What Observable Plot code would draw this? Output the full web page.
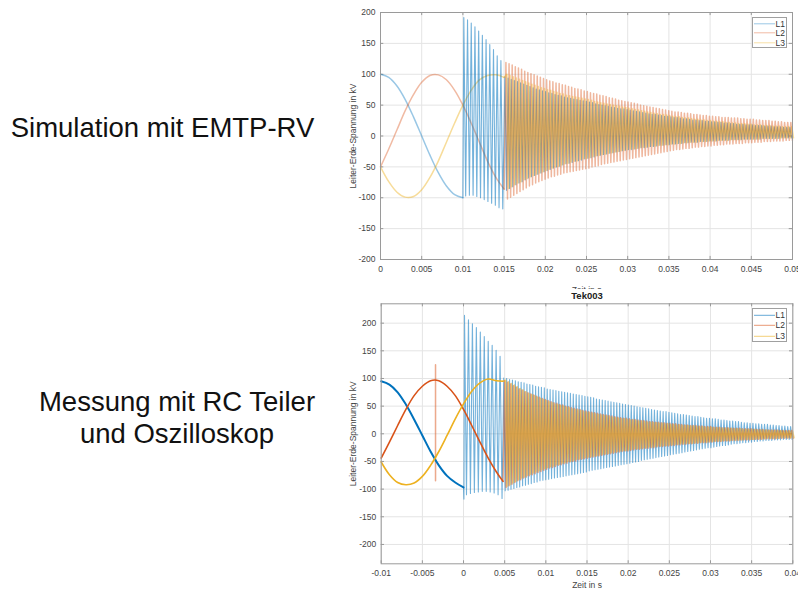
<!DOCTYPE html>
<html><head><meta charset="utf-8">
<script src="https://cdn.jsdelivr.net/npm/d3@7"></script>
<script src="https://cdn.jsdelivr.net/npm/@observablehq/plot@0.6"></script>
<style>
html,body{margin:0;padding:0;background:#fff;}
body{width:798px;height:591px;position:relative;overflow:hidden;font-family:"Liberation Sans",Arial,sans-serif;}
.lbl{position:absolute;font-size:27.5px;line-height:32px;color:#111;white-space:nowrap;text-align:center;}
.chart{position:absolute;left:340px;}
.legend{position:absolute;background:#fff;border:1px solid #a0a0a0;box-sizing:border-box;}
</style></head><body>
<div class="lbl" style="left:0;width:325px;top:112px;">Simulation mit EMTP-RV</div>
<div class="lbl" style="left:0;width:354px;top:386px;">Messung mit RC Teiler<br>und Oszilloskop</div>
<div class="chart" id="top" style="top:0;"></div>
<div class="chart" id="bot" style="top:290px;"></div>
<div class="legend" id="legTop" style="left:752px;top:17px;width:35px;height:31px;"></div>
<div class="legend" id="legBot" style="left:752px;top:308px;width:35px;height:34px;"></div>
<script>
// ---------- shared ----------
const seriesNames = ["L1", "L2", "L3"];
const seriesColors = ["#0072BD", "#D95319", "#EDB120"];
const yLabel = "Leiter-Erde-Spannung in kV";
const xLabel = "Zeit in s";
const bottomTitle = "Tek003";

// ---------- top chart: Simulation mit EMTP-RV ----------
const simXTicks = [0, 0.005, 0.01, 0.015, 0.02, 0.025, 0.03, 0.035, 0.04, 0.045, 0.05];
const simYTicks = [-200, -150, -100, -50, 0, 50, 100, 150, 200];
const simSineTimes = [0, 0.001, 0.002, 0.003, 0.004, 0.005, 0.006, 0.007, 0.008, 0.009, 0.01, 0.011, 0.012, 0.013, 0.014, 0.015];
const simL1Sine = [100, 95, 81, 59, 31, 0, -31, -59, -81, -95, -100];
const simL2Sine = [-50, -21, 10, 41, 67, 87, 98, 99, 91, 74, 50, 21, -10, -41, -67, -86];
const simL3Sine = [-50, -74, -91, -99, -98, -87, -67, -41, -10, 21, 50, 74, 91, 98, 99, 95];
// L1 re-strike spikes 0.01 .. 0.015
const simSpikeStart = 0.01, simSpikePeriod = 0.00045;
const simL1SpikeHi = [192, 188, 183, 177, 170, 163, 156, 148, 140, 130, 122];
const simL1SpikeLo = [-97, -96, -96, -98, -100, -103, -106, -109, -112, -116, -118];
// decaying oscillation 0.015 .. 0.05 (peak per cycle)
const simOscStart = 0.015, simOscPeriod = 0.00038;
const simL1Hi = [96,94,92,90,88,86,84,82,80,78,76,75,73, 72,70,69,67,66,65,63,62,61,60,59,58,57, 56,55,54,52,51,50,49,48,47,46,45,44,44, 43,42,41,40,39,38,37,36,35,35,34,33,32, 32,31,30,30,29,28,28,27,26,26,25,25,24, 24,23,23,22,22,21,21,20,20,19,19,19,18, 18,18,17,17,17,16,16,16,15,15,15,14,14,14];
const simL1Lo = [-88,-85,-82,-79,-76,-74,-71,-68,-66,-64,-62,-60,-58, -56,-54,-52,-50,-49,-47,-45,-44,-43,-41,-40,-39,-37, -36,-35,-34,-32,-31,-30,-29,-28,-27,-26,-25,-24,-23, -22,-22,-21,-20,-19,-19,-18,-17,-17,-16,-15,-15,-14, -14,-13,-13,-12,-12,-11,-11,-10,-10,-10,-9,-9,-9, -8,-8,-8,-7,-7,-7,-7,-6,-6,-6,-6,-5,-5, -5,-5,-5,-5,-4,-4,-4,-4,-4,-4,-3,-3,-3,-3];
const simL2Hi = [119,117,115,112,110,108,105,103,101,99,97,95,93, 91,89,88,86,85,83,82,80,79,77,76,75,73, 72,70,69,68,66,65,64,62,61,60,58,57,56, 55,54,53,52,50,49,48,47,46,45,44,43,42, 41,40,39,39,38,37,37,36,35,35,34,33,33, 32,32,31,31,30,30,30,29,29,29,28,28,27, 27,27,26,26,25,25,25,24,24,23,23,22,22,22];
const simL2Lo = [-102,-99,-96,-93,-90,-87,-84,-81,-79,-76,-74,-72,-70, -68,-66,-65,-63,-62,-60,-59,-58,-57,-56,-55,-54,-53, -52,-50,-49,-48,-46,-45,-44,-43,-42,-41,-40,-39,-38, -37,-36,-35,-34,-33,-32,-31,-30,-29,-28,-27,-26,-25, -24,-23,-22,-22,-21,-20,-20,-19,-18,-18,-17,-17,-16, -16,-15,-15,-14,-14,-13,-13,-13,-12,-12,-12,-11,-11, -11,-10,-10,-10,-9,-9,-9,-8,-8,-8,-8,-7,-7,-7];
const simL3Hi = [100,98,96,94,92,90,88,86,84,82,80,78,77, 75,74,72,71,69,68,66,65,64,63,62,61,60, 59,58,56,55,54,53,52,51,50,49,48,47,46, 45,44,43,42,41,40,39,38,37,36,35,35,34, 33,32,31,31,30,29,29,28,27,27,26,26,25, 25,24,24,23,23,22,22,21,21,20,20,20,19, 19,18,18,18,17,17,17,16,16,16,15,15,15,15];
const simL3Lo = [-85,-82,-79,-76,-74,-71,-69,-66,-64,-62,-60,-58,-56, -54,-52,-50,-49,-47,-45,-44,-42,-41,-40,-38,-37,-36, -35,-33,-32,-31,-30,-29,-28,-27,-26,-25,-24,-23,-22, -21,-21,-20,-19,-18,-18,-17,-16,-16,-15,-15,-14,-14, -13,-13,-12,-12,-11,-11,-10,-10,-10,-9,-9,-9,-8, -8,-8,-7,-7,-7,-7,-6,-6,-6,-6,-5,-5,-5, -5,-5,-5,-4,-4,-4,-4,-4,-4,-3,-3,-3,-3,-3];

// ---------- bottom chart: Messung (Tek003) ----------
const mesXTicks = [-0.01, -0.005, 0, 0.005, 0.01, 0.015, 0.02, 0.025, 0.03, 0.035, 0.04];
const mesYTicks = [-200, -150, -100, -50, 0, 50, 100, 150, 200];
const mesSineTimes = [-0.01, -0.009, -0.008, -0.007, -0.006, -0.005, -0.004, -0.003, -0.002, -0.001, 0, 0.001, 0.002, 0.003, 0.004, 0.0048];
const mesL1Sine = [95, 89, 75, 53, 26, -3, -32, -57, -76, -88, -97];
const mesL2Sine = [-44, -15, 15, 44, 69, 86, 96, 96, 86, 69, 44, 15, -15, -44, -69, -86];
const mesL3Sine = [-51, -74, -88, -92, -89, -77, -57, -32, -3, 27, 54, 77, 92, 99, 96, 95];
const mesL2Glitch = {t: -0.0034, values: [96, 125, -85, 96]};
const mesSpikeStart = 0, mesSpikePeriod = 0.00048;
const mesL1SpikeLoFirst = -118;
const mesL1SpikeHi = [214, 206, 199, 192, 184, 176, 167, 160, 151, 140];
const mesL1SpikeLo = [-110, -108, -106, -105, -104, -104, -105, -107, -110, -117];
const mesOscStart = 0.0048, mesOscPeriod = 0.000352;
const mesL1Hi = [101,100,98,97,96,94,93,92,90,89,88,86,85,84,83, 81,80,79,78,77,76,75,74,73,72,71,70,69,68, 67,66,65,63,62,61,60,59,58,57,56,55,54,53, 52,51,50,49,48,47,46,45,44,43,42,41,40,40, 39,38,37,36,35,35,34,33,32,31,31,30,29,28, 28,27,27,26,25,25,24,23,23,22,22,21,20,20,19, 19,18,18,17,17,17,16,16,15,15,14,14,13,13];
const mesL1Lo = [-103,-102,-100,-99,-97,-96,-94,-93,-91,-90,-88,-87,-85,-84,-83, -82,-81,-80,-79,-78,-77,-76,-75,-74,-73,-72,-71,-70,-69, -67,-66,-65,-64,-63,-62,-61,-60,-59,-58,-57,-56,-55,-54, -53,-52,-51,-50,-48,-47,-46,-45,-44,-43,-42,-41,-40,-39, -38,-37,-36,-35,-34,-33,-32,-31,-30,-29,-28,-27,-26,-25, -25,-24,-23,-22,-21,-21,-20,-19,-18,-18,-17,-16,-16,-15,-15, -14,-14,-13,-13,-12,-12,-12,-11,-11,-11,-10,-10,-10,-10];
const mesL2Hi = [96,93,90,87,84,81,79,76,74,72,70,68,66,64,62, 60,58,56,55,53,52,50,49,47,46,45,44,42,41, 40,39,38,37,36,35,34,33,32,31,30,29,28,28, 27,26,26,25,24,24,23,22,22,21,21,20,20,19, 19,18,18,17,17,16,16,15,15,15,14,14,13,13, 13,12,12,12,11,11,11,10,10,10,10,9,9,9,9, 8,8,8,8,7,7,7,7,7,6,6,6,6,6];
const mesL2Lo = [-97,-94,-91,-88,-85,-83,-80,-78,-76,-74,-72,-70,-68,-66,-64, -62,-61,-59,-57,-56,-54,-53,-51,-50,-49,-47,-46,-45,-44, -43,-42,-41,-40,-39,-38,-37,-36,-35,-34,-33,-32,-31,-31, -30,-29,-28,-28,-27,-26,-26,-25,-25,-24,-23,-23,-22,-22, -21,-21,-20,-20,-19,-19,-18,-18,-17,-17,-16,-16,-16,-15, -15,-14,-14,-14,-13,-13,-13,-12,-12,-12,-11,-11,-11,-11,-10, -10,-10,-10,-9,-9,-9,-9,-9,-8,-8,-8,-8,-8,-8];
const mesL3Hi = [97,94,91,88,85,82,79,76,73,71,69,66,64,62,60, 58,56,54,53,51,50,48,47,45,44,43,42,40,39, 38,37,36,35,34,33,32,31,30,29,28,27,27,26, 25,25,24,23,23,22,21,21,20,20,19,19,18,18, 17,17,16,16,15,15,15,14,14,13,13,13,12,12, 12,11,11,11,10,10,10,10,9,9,9,8,8,8,8, 8,7,7,7,7,6,6,6,6,6,5,5,5,5];
const mesL3Lo = [-95,-92,-89,-86,-83,-80,-78,-75,-73,-71,-69,-67,-65,-63,-61, -59,-58,-56,-55,-53,-52,-50,-49,-48,-46,-45,-44,-43,-42, -41,-40,-39,-38,-37,-36,-35,-34,-33,-32,-31,-30,-30,-29, -28,-27,-27,-26,-25,-25,-24,-24,-23,-22,-22,-21,-21,-20, -20,-19,-19,-18,-18,-17,-17,-17,-16,-16,-15,-15,-15,-14, -14,-13,-13,-13,-12,-12,-12,-11,-11,-11,-11,-10,-10,-10,-10, -9,-9,-9,-9,-8,-8,-8,-8,-8,-7,-7,-7,-7,-7];

// ---------- helpers ----------
const pairs = (times, vals) => vals.map((v, i) => ({t: times[i], v}));
function osc(start, period, phase, hi, lo) {
  const pts = [];
  const n = Math.min(hi.length, lo.length);
  for (let i = 0; i < n; i++) {
    pts.push({t: start + (i + phase + 0.25) * period, v: hi[i]});
    pts.push({t: start + (i + phase + 0.75) * period, v: lo[i]});
  }
  return pts;
}
const fmt = d => String(+(+d).toFixed(3));

function frameMarks(xTicks, yTicks, xDom, yDom, tickLenX, tickLenY, xLabelOffset) {
  return [
    Plot.gridX(xTicks, {stroke: "#e4e4e4", strokeOpacity: 1}),
    Plot.gridY(yTicks, {stroke: "#e4e4e4", strokeOpacity: 1}),
    Plot.ruleX(xTicks, {y1: yDom[0], y2: yDom[0] + tickLenY, stroke: "#999"}),
    Plot.ruleX(xTicks, {y1: yDom[1], y2: yDom[1] - tickLenY, stroke: "#999"}),
    Plot.ruleY(yTicks, {x1: xDom[0], x2: xDom[0] + tickLenX, stroke: "#999"}),
    Plot.ruleY(yTicks, {x1: xDom[1], x2: xDom[1] - tickLenX, stroke: "#999"}),
    Plot.axisX(xTicks, {tickSize: 0, tickPadding: 6, tickFormat: fmt, fontSize: 8.5, fill: "#444",
      label: xLabel, labelAnchor: "center", labelArrow: "none", labelOffset: xLabelOffset}),
    Plot.axisY(yTicks, {tickSize: 0, tickPadding: 5, tickFormat: d => String(d), fontSize: 8.5, fill: "#444",
      label: yLabel, labelAnchor: "center", labelArrow: "none", labelOffset: 31})
  ];
}

// ---------- top chart ----------
const simL1Rest = [{t: simSineTimes[10], v: simL1Sine[10]}]
  .concat(osc(simSpikeStart, simSpikePeriod, 0, simL1SpikeHi, simL1SpikeLo))
  .concat(osc(simOscStart, simOscPeriod, 0, simL1Hi, simL1Lo));
const simL2Rest = [{t: simSineTimes[15], v: simL2Sine[15]}].concat(osc(simOscStart, simOscPeriod, 1/3, simL2Hi, simL2Lo));
const simL3Rest = [{t: simSineTimes[15], v: simL3Sine[15]}].concat(osc(simOscStart, simOscPeriod, 2/3, simL3Hi, simL3Lo));

const simX = [0, 0.05], simY = [-200, 200];
const topPlot = Plot.plot({
  width: 458, height: 289,
  marginLeft: 40, marginRight: 6, marginTop: 12, marginBottom: 30,
  x: {domain: simX}, y: {domain: simY},
  style: {fontFamily: "Liberation Sans, Arial, sans-serif", fontSize: "8.5px", color: "#444", background: "transparent", overflow: "hidden"},
  marks: [
    ...frameMarks(simXTicks, simYTicks, simX, simY, 0.0004, 5, 33),
    Plot.line(pairs(simSineTimes, simL1Sine), {x: "t", y: "v", stroke: seriesColors[0], strokeOpacity: 0.4, curve: "catmull-rom"}),
    Plot.line(pairs(simSineTimes, simL2Sine), {x: "t", y: "v", stroke: seriesColors[1], strokeOpacity: 0.4, curve: "catmull-rom"}),
    Plot.line(pairs(simSineTimes, simL3Sine), {x: "t", y: "v", stroke: seriesColors[2], strokeOpacity: 0.45, curve: "catmull-rom"}),
    Plot.line(simL1Rest, {x: "t", y: "v", stroke: seriesColors[0], strokeOpacity: 0.55, strokeWidth: 1.1}),
    Plot.line(simL2Rest, {x: "t", y: "v", stroke: seriesColors[1], strokeOpacity: 0.42}),
    Plot.line(simL3Rest, {x: "t", y: "v", stroke: seriesColors[2], strokeOpacity: 0.45}),
    Plot.frame({stroke: "#9a9a9a"})
  ]
});
document.getElementById("top").append(topPlot);

// ---------- bottom chart ----------
const mesL1Rest = [{t: mesSineTimes[10], v: mesL1Sine[10]}, {t: mesSpikeStart + 0.00005, v: mesL1SpikeLoFirst}]
  .concat(osc(mesSpikeStart, mesSpikePeriod, 0, mesL1SpikeHi, mesL1SpikeLo))
  .concat(osc(mesOscStart, mesOscPeriod, 0, mesL1Hi, mesL1Lo));
const mesL2Rest = [{t: mesSineTimes[15], v: mesL2Sine[15]}].concat(osc(mesOscStart, mesOscPeriod, 1/3, mesL2Hi, mesL2Lo));
const mesL3Rest = [{t: mesSineTimes[15], v: mesL3Sine[15]}].concat(osc(mesOscStart, mesOscPeriod, 2/3, mesL3Hi, mesL3Lo));
const mesGlitch = mesL2Glitch.values.map(v => ({t: mesL2Glitch.t, v}));

const mesX = [-0.01, 0.04], mesY = [-235, 235];
const botPlot = Plot.plot({
  width: 458, height: 301,
  marginLeft: 40.7, marginRight: 5.7, marginTop: 13.3, marginBottom: 27.7,
  x: {domain: mesX}, y: {domain: mesY},
  style: {fontFamily: "Liberation Sans, Arial, sans-serif", fontSize: "8.5px", color: "#444", background: "#fff", overflow: "hidden"},
  marks: [
    ...frameMarks(mesXTicks, mesYTicks, mesX, mesY, 0.0004, 5.5, 24),
    Plot.line(mesL1Rest, {x: "t", y: "v", stroke: seriesColors[0], strokeOpacity: 0.55, strokeWidth: 1.1}),
    Plot.line(mesL2Rest, {x: "t", y: "v", stroke: seriesColors[1], strokeOpacity: 0.5}),
    Plot.line(mesL3Rest, {x: "t", y: "v", stroke: seriesColors[2], strokeOpacity: 0.55}),
    Plot.line(mesGlitch, {x: "t", y: "v", stroke: seriesColors[1], strokeOpacity: 0.5}),
    Plot.line(pairs(mesSineTimes, mesL1Sine), {x: "t", y: "v", stroke: seriesColors[0], strokeWidth: 2, curve: "catmull-rom"}),
    Plot.line(pairs(mesSineTimes, mesL2Sine), {x: "t", y: "v", stroke: seriesColors[1], strokeWidth: 1.6, curve: "catmull-rom"}),
    Plot.line(pairs(mesSineTimes, mesL3Sine), {x: "t", y: "v", stroke: seriesColors[2], strokeWidth: 1.6, curve: "catmull-rom"}),
    Plot.text([bottomTitle], {frameAnchor: "top", lineAnchor: "middle", dy: -7.5, fontWeight: "bold", fontSize: 9.5, fill: "#222"}),
    Plot.frame({stroke: "#9a9a9a"})
  ]
});
document.getElementById("bot").append(botPlot);

// ---------- legends ----------
function legend(id, rowYs, opacity) {
  const el = document.getElementById(id);
  const w = el.clientWidth, h = el.clientHeight;
  const svg = d3.create("svg").attr("width", w).attr("height", h).style("display", "block");
  seriesNames.forEach((name, i) => {
    svg.append("line").attr("x1", 1).attr("x2", 22).attr("y1", rowYs[i]).attr("y2", rowYs[i])
      .attr("stroke", seriesColors[i]).attr("stroke-opacity", opacity);
    svg.append("text").attr("x", 32).attr("y", rowYs[i]).attr("dy", "0.35em").attr("text-anchor", "end")
      .attr("font-size", 8.5).attr("fill", "#333").text(name);
  });
  el.append(svg.node());
}
legend("legTop", [5.8, 14.8, 24.8], 0.4);
legend("legBot", [6.3, 16.3, 27.3], 0.6);
</script>
</body></html>
